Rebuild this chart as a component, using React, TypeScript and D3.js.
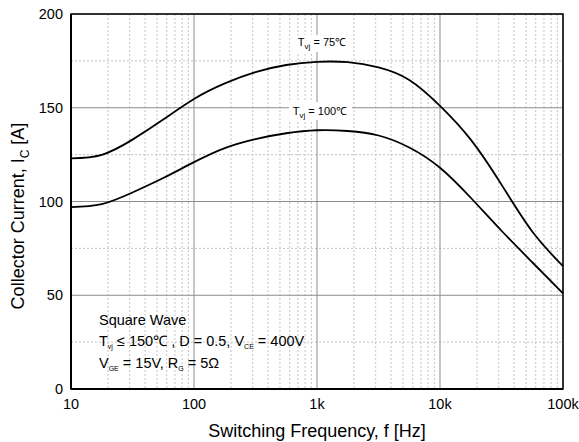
import React from "react";
import * as d3 from "d3";

const freqs = [10, 17.8, 31.6, 56.2, 100, 178, 316, 562, 1000, 1778, 3162, 5623, 10000, 17783, 31623, 56234, 100000];
const currT75 = [123, 124.9, 133, 143.7, 154.7, 163, 169, 172.8, 174.5, 174.3, 171.5, 164.8, 151, 133, 109, 84, 65.5];
const currT100 = [97, 98.6, 104.8, 112.5, 121, 128.5, 133.3, 136.4, 138, 137.6, 135.2, 128.8, 118, 102, 84.4, 67.6, 51];

const xTicks = [10, 100, 1000, 10000, 100000];
const xTickLabels = ["10", "100", "1k", "10k", "100k"];
const yTicks = [0, 50, 100, 150, 200];
const yMinor = [25, 75, 125, 175];

const W = 579, H = 442;
const L = 71, R = 563, T = 14, B = 389;
const FONT = "Liberation Sans, Arial, Helvetica, sans-serif";

export default function App() {
  const x = d3.scaleLog().domain([10, 100000]).range([L, R]);
  const y = d3.scaleLinear().domain([0, 200]).range([B, T]);

  const minorX: number[] = [];
  for (let d = 10; d < 100000; d *= 10) for (let k = 2; k <= 9; k++) minorX.push(d * k);

  const line = d3
    .line<[number, number]>()
    .x((d) => x(d[0]))
    .y((d) => y(d[1]))
    .curve(d3.curveNatural);

  const p75 = line(freqs.map((f, i) => [f, currT75[i]] as [number, number])) || "";
  const p100 = line(freqs.map((f, i) => [f, currT100[i]] as [number, number])) || "";

  return (
    <svg width={W} height={H} style={{ position: "absolute", left: 0, top: 0, background: "#fff" }} fontFamily={FONT}>
      <rect x={0} y={0} width={W} height={H} fill="#fff" />
      {minorX.map((f) => (
        <line key={"mx" + f} x1={x(f)} x2={x(f)} y1={T} y2={B} stroke="#c4c4c4" strokeWidth={1} strokeDasharray="2,2" />
      ))}
      {yMinor.map((v) => (
        <line key={"my" + v} x1={L} x2={R} y1={y(v)} y2={y(v)} stroke="#c4c4c4" strokeWidth={1} strokeDasharray="2,2" />
      ))}
      {xTicks.map((f) => (
        <line key={"gx" + f} x1={x(f)} x2={x(f)} y1={T} y2={B} stroke="#8c8c8c" strokeWidth={1} />
      ))}
      {yTicks.map((v) => (
        <line key={"gy" + v} x1={L} x2={R} y1={y(v)} y2={y(v)} stroke="#8c8c8c" strokeWidth={1} />
      ))}

      <rect x={290} y={35} width={62} height={17} fill="#fff" />
      <rect x={289} y={102} width={63} height={18} fill="#fff" />

      <path d={p75} fill="none" stroke="#000" strokeWidth={1.8} />
      <path d={p100} fill="none" stroke="#000" strokeWidth={1.8} />

      <rect x={L} y={T} width={R - L} height={B - T} fill="none" stroke="#000" strokeWidth={1.5} />
      <line x1={L} x2={L} y1={T} y2={B} stroke="#000" strokeWidth={2} />
      <line x1={L} x2={R} y1={B} y2={B} stroke="#000" strokeWidth={2} />

      <text x={322} y={46} fontSize={11} textAnchor="middle" fill="#000">
        T<tspan dy={3} fontSize={8}>vj</tspan><tspan dy={-3}> = 75℃</tspan>
      </text>
      <text x={320} y={115} fontSize={11} textAnchor="middle" fill="#000">
        T<tspan dy={3} fontSize={8}>vj</tspan><tspan dy={-3}> = 100℃</tspan>
      </text>

      {xTicks.map((f, i) => (
        <text key={"xt" + f} x={x(f)} y={409} fontSize={14.5} textAnchor="middle" fill="#000">
          {xTickLabels[i]}
        </text>
      ))}
      {yTicks.map((v) => (
        <text key={"yt" + v} x={63} y={y(v) + 5} fontSize={14.5} textAnchor="end" fill="#000">
          {v}
        </text>
      ))}

      <text x={(L + R) / 2} y={437} fontSize={18} textAnchor="middle" fill="#000">
        Switching Frequency, f [Hz]
      </text>
      <text transform="translate(24,216) rotate(-90)" fontSize={18} textAnchor="middle" fill="#000">
        Collector Current, I<tspan dy={5} fontSize={12}>C</tspan><tspan dy={-5}> [A]</tspan>
      </text>

      <text x={99} y={325} fontSize={14.5} fill="#000">Square Wave</text>
      <text x={99} y={346} fontSize={14.5} fill="#000">
        T<tspan dy={3} fontSize={7}>vj</tspan><tspan dy={-3}> ≤ 150℃ , D = 0.5, V</tspan><tspan dy={3} fontSize={7}>CE</tspan><tspan dy={-3}> = 400V</tspan>
      </text>
      <text x={99} y={368} fontSize={14.5} fill="#000">
        V<tspan dy={3} fontSize={7}>GE</tspan><tspan dy={-3}> = 15V, R</tspan><tspan dy={3} fontSize={7}>G</tspan><tspan dy={-3}> = 5Ω</tspan>
      </text>
    </svg>
  );
}
